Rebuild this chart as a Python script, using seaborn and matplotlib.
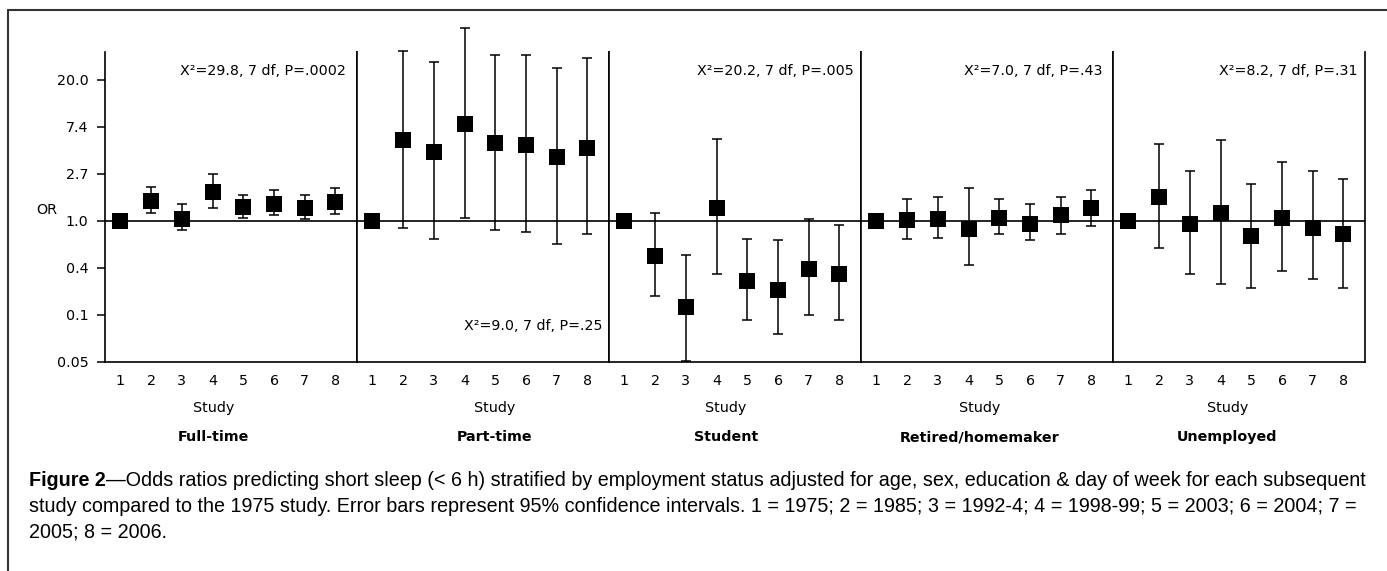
import numpy as np
import pandas as pd
import seaborn as sns
import matplotlib.pyplot as plt
from matplotlib.lines import Line2D
from matplotlib.ticker import NullLocator, FixedLocator, FixedFormatter

# 데이터 (그림에서 읽은 값, OR 및 95% CI)
groups = ["Full-time", "Part-time", "Student", "Retired/homemaker", "Unemployed"]
studies = [1, 2, 3, 4, 5, 6, 7, 8]
stats = ["X²=29.8, 7 df, P=.0002", "X²=9.0, 7 df, P=.25", "X²=20.2, 7 df, P=.005",
         "X²=7.0, 7 df, P=.43", "X²=8.2, 7 df, P=.31"]

or_full = [1.0, 1.51, 1.03, 1.86, 1.35, 1.42, 1.30, 1.48]
lo_full = [np.nan, 1.17, 0.82, 1.32, 1.07, 1.12, 1.04, 1.15]
hi_full = [np.nan, 2.05, 1.42, 2.69, 1.75, 1.93, 1.75, 1.99]

or_part = [1.0, 5.53, 4.31, 7.77, 5.21, 5.05, 3.86, 4.71]
lo_part = [np.nan, 0.86, 0.68, 1.06, 0.82, 0.79, 0.61, 0.76]
hi_part = [np.nan, 37.3, 29.4, 61.0, 34.1, 34.1, 25.8, 31.8]

or_student = [1.0, 0.47, 0.16, 1.30, 0.28, 0.23, 0.36, 0.32]
lo_student = [np.nan, 0.20, 0.05, 0.32, 0.12, 0.09, 0.135, 0.12]
hi_student = [np.nan, 1.17, 0.48, 5.70, 0.68, 0.66, 1.04, 0.92]

or_retired = [1.0, 1.01, 1.04, 0.84, 1.07, 0.94, 1.12, 1.30]
lo_retired = [np.nan, 0.68, 0.69, 0.39, 0.76, 0.66, 0.76, 0.89]
hi_retired = [np.nan, 1.60, 1.67, 1.99, 1.60, 1.42, 1.67, 1.93]

or_unemp = [1.0, 1.67, 0.94, 1.17, 0.72, 1.07, 0.86, 0.76]
lo_unemp = [np.nan, 0.56, 0.32, 0.26, 0.24, 0.34, 0.29, 0.24]
hi_unemp = [np.nan, 5.16, 2.89, 5.58, 2.18, 3.46, 2.89, 2.46]

ytick_labels = ["0.05", "0.1", "0.4", "1.0", "2.7", "7.4", "20.0"]

frames = []
for g, o, lo, hi in zip(groups,
                        [or_full, or_part, or_student, or_retired, or_unemp],
                        [lo_full, lo_part, lo_student, lo_retired, lo_unemp],
                        [hi_full, hi_part, hi_student, hi_retired, hi_unemp]):
    frames.append(pd.DataFrame({"group": g, "study": studies, "or": o, "lo": lo, "hi": hi}))
df = pd.concat(frames, ignore_index=True)

sns.set_style("white")
plt.rcParams["font.family"] = ["DejaVu Sans"]
plt.rcParams["text.color"] = "black"

W, H = 1387, 571
fig, axes = plt.subplots(1, 5, figsize=(W / 100, H / 100), dpi=100, sharey=True)
fig.subplots_adjust(left=105 / W, right=1365 / W, bottom=1 - 361.7 / H, top=1 - 51.7 / H, wspace=0)

# 패널별 위치 (레이아웃)
label_x = [4.03, 4.99, 4.3, 4.35, 4.22]
stat_pos = [(0.955, 0.938), (0.975, 0.115), (0.972, 0.938), (0.958, 0.938), (0.971, 0.938)]

for i, (ax, g) in enumerate(zip(axes, groups)):
    sub = df[df["group"] == g]
    ax.axhline(1.0, color="black", lw=1.2, zorder=1)
    eb = ax.errorbar(sub["study"], sub["or"],
                     yerr=[sub["or"] - sub["lo"], sub["hi"] - sub["or"]],
                     fmt="none", ecolor="black", elinewidth=1.1, capsize=3.5, capthick=1.1, zorder=2)
    for art in eb.get_children():
        art.set_clip_on(False)
    sns.scatterplot(data=sub, x="study", y="or", marker="s", s=125, color="black",
                    edgecolor="black", linewidth=0, ax=ax, legend=False, zorder=3)

    ax.set_yscale("log", base=np.e)
    ax.set_xlim(0.5, 8.7)
    ax.set_xticks(studies)
    ax.set_xticklabels([str(s) for s in studies])
    ax.tick_params(axis="x", length=0, pad=9, labelsize=10.3, colors="black")
    ax.set_xlabel("")
    ax.set_ylabel("")

    for side in ["left", "right", "bottom"]:
        ax.spines[side].set_visible(True)
        ax.spines[side].set_color("black")
        ax.spines[side].set_linewidth(1.2)
    ax.spines["top"].set_visible(False)

    tx, ty = stat_pos[i]
    ax.text(tx, ty, stats[i], transform=ax.transAxes, ha="right", va="center", fontsize=10.3)

    ax.text(label_x[i], -0.150, "Study", transform=ax.get_xaxis_transform(),
            ha="center", va="center", fontsize=10.3)
    ax.text(label_x[i], -0.243, g, transform=ax.get_xaxis_transform(),
            ha="center", va="center", fontsize=10.3, fontweight="bold")

    if i > 0:
        ax.tick_params(axis="y", left=False, labelleft=False)

# y축: 자연로그 눈금, 첫 패널에만 표시
ax0 = axes[0]
ax0.set_ylim(np.exp(-3), np.exp(3.6))
ax0.yaxis.set_major_locator(FixedLocator(np.exp(np.arange(-3, 4))))
ax0.yaxis.set_major_formatter(FixedFormatter(ytick_labels))
ax0.yaxis.set_minor_locator(NullLocator())
ax0.tick_params(axis="y", left=True, length=6, width=1.1, pad=6, labelsize=10.3, colors="black")
ax0.text(-0.23, 0.489, "OR", transform=ax0.transAxes, ha="center", va="center", fontsize=10.3)

# 바깥 테두리 (위, 왼쪽)
fig.add_artist(Line2D([8 / W, 1], [1 - 10 / H, 1 - 10 / H], transform=fig.transFigure, color="#333333", lw=1.5))
fig.add_artist(Line2D([8 / W, 8 / W], [0, 1 - 10 / H], transform=fig.transFigure, color="#333333", lw=1.5))

# 캡션
cap_font = ["Liberation Sans", "DejaVu Sans"]
cap_size = 14.2
lines = [
    "—Odds ratios predicting short sleep (< 6 h) stratified by employment status adjusted for age, sex, education & day of week for each subsequent",
    "study compared to the 1975 study. Error bars represent 95% confidence intervals. 1 = 1975; 2 = 1985; 3 = 1992-4; 4 = 1998-99; 5 = 2003; 6 = 2004; 7 =",
    "2005; 8 = 2006.",
]
x0 = 29 / W
base = [486, 512, 538]
renderer = fig.canvas.get_renderer()
bold = fig.text(x0, 1 - base[0] / H, "Figure 2", family=cap_font, fontsize=cap_size,
                fontweight="bold", va="baseline", ha="left")
bw = bold.get_window_extent(renderer).width
fig.text(x0 + bw / W, 1 - base[0] / H, lines[0], family=cap_font, fontsize=cap_size, va="baseline", ha="left")
fig.text(x0, 1 - base[1] / H, lines[1], family=cap_font, fontsize=cap_size, va="baseline", ha="left")
fig.text(x0, 1 - base[2] / H, lines[2], family=cap_font, fontsize=cap_size, va="baseline", ha="left")

fig.savefig("out.png", dpi=100, facecolor="white")
